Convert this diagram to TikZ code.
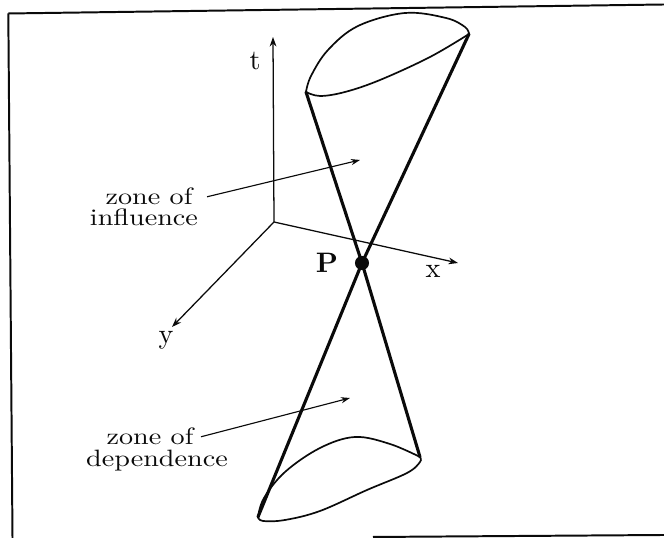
\documentclass[tikz,border=0pt]{standalone}
\usepackage{xcolor}
\usepackage{graphicx}
\usetikzlibrary{arrows.meta}
\definecolor{Ink}{HTML}{0A0A0A}
\definecolor{Paper}{HTML}{FFFFFF}
\newcommand{\vsquash}[1]{\scalebox{1}[0.84]{#1}}

\begin{document}
\begin{tikzpicture}[x=0.355pt,y=-0.355pt,text=Ink,label/.style={anchor=base,inner sep=0pt,font=\normalsize},axis/.style={draw=Ink,line width=0.45pt,-{Stealth[length=3.4pt,width=2.4pt]}},pointer/.style={draw=Ink,line width=0.4pt,-{Stealth[length=3.2pt,width=2.2pt]}},generator/.style={draw=Ink,line width=1.1pt,line cap=round},rim/.style={draw=Ink,line width=0.6pt},frame/.style={draw=Ink,line width=0.7pt},apex/.style={circle,fill=Ink,inner sep=0pt,minimum size=5pt}]
\fill[Paper] (0,0) rectangle (664,538);
\useasboundingbox (0,0) rectangle (664,538);
\draw[frame] (8.3,13.5) -- (664,4.5);
\draw[frame] (8.3,13.5) -- (12.5,538);
\draw[frame] (373,537) -- (664,535);
\coordinate (O) at (274,222);
\coordinate (tEnd) at (273,37);
\coordinate (xEnd) at (458,263);
\coordinate (yEnd) at (172,327);
\draw[axis] (O) -- (tEnd);
\draw[axis] (O) -- (xEnd);
\draw[axis] (O) -- (yEnd);
\node[label] (tLab) at (255,70){t};
\node[label] (xLab) at (433,278){x};
\node[label] (yLab) at (166,344){y};
\coordinate (topL) at (306,92);
\coordinate (topR) at (469,34);
\coordinate (botL) at (258,517);
\coordinate (botR) at (420,457);
\node[apex] (P) at (362,263){};
\node[label] (PLab) at (327,273){\textbf{P}};
\draw[generator] (topL) -- (P.center) -- (botR);
\draw[generator] (topR) -- (P.center) -- (botL);
\draw[rim] plot[smooth,tension=0.6] coordinates {(306,92) (311,76) (328,50) (358,26) (405,13) (446,18) (465,27) (469,34)};
\draw[rim] plot[smooth,tension=0.6] coordinates {(306,92) (320,96) (345,92) (380,80) (430,57) (469,34)};
\draw[rim] plot[smooth,tension=0.6] coordinates {(258,517) (264,498) (285,472) (320,448) (355,437) (390,444) (420,457)};
\draw[rim] plot[smooth,tension=0.6] coordinates {(258,517) (263,521) (285,520) (320,511) (367,490) (407,473) (420,462) (420,457)};
\node[label] (inflA) at (149,205){\vsquash{zone of}};
\node[label] (inflB) at (144,226){\vsquash{influence}};
\coordinate (inflTip) at (360,160);
\draw[pointer] ([xshift=5pt]inflA.east) -- (inflTip);
\node[label] (depA) at (150,445){\vsquash{zone of}};
\node[label] (depB) at (157,467){\vsquash{dependence}};
\coordinate (depTip) at (350,398);
\draw[pointer] ([xshift=2.5pt]depA.east) -- (depTip);
\end{tikzpicture}
\end{document}
